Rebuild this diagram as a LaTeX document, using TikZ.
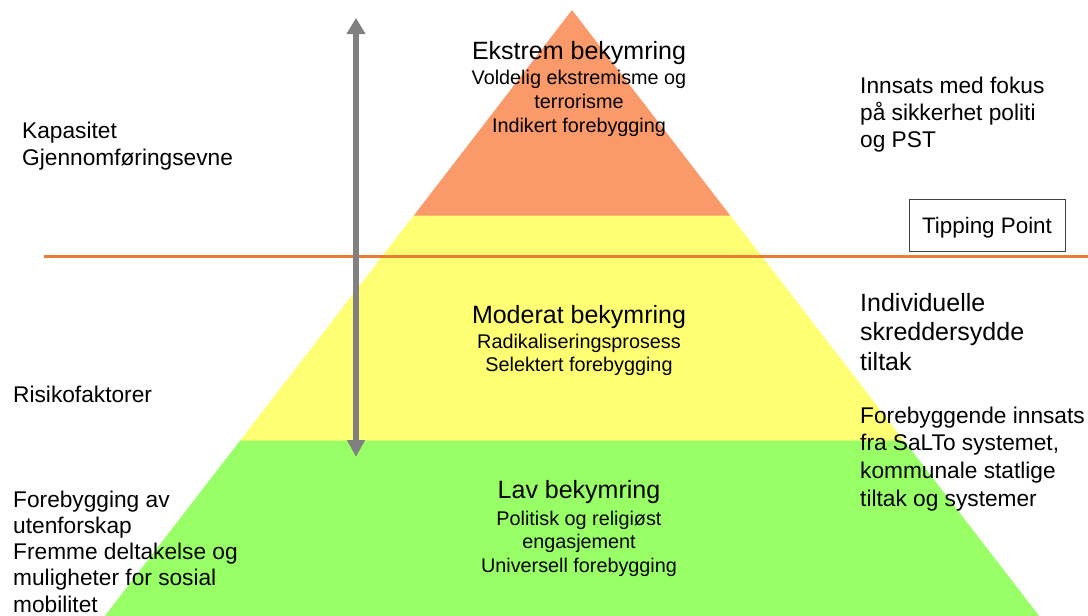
\documentclass[tikz,border=0pt]{standalone}
\usepackage{fontspec}
\setmainfont{Liberation Sans}
\usetikzlibrary{arrows.meta}
\definecolor{pyrorange}{RGB}{250,154,106}
\definecolor{pyryellow}{RGB}{255,255,115}
\definecolor{pyrgreen}{RGB}{153,255,102}
\definecolor{tipline}{RGB}{234,125,52}
\definecolor{arrowgray}{RGB}{128,128,128}
\begin{document}
\begin{tikzpicture}[x=1pt,y=-1pt,
  head/.style={font=\fontsize{25}{30}\selectfont, anchor=base, inner sep=0},
  sub/.style={font=\fontsize{19.8}{24}\selectfont, anchor=base, inner sep=0},
  side/.style={font=\fontsize{22.7}{27}\selectfont, anchor=base west, inner sep=0},
  sidebig/.style={font=\fontsize{25}{30}\selectfont, anchor=base west, inner sep=0}]
\useasboundingbox (0,0) rectangle (1088,616);
% pyramid
\fill[pyrgreen] (240.5,440) -- (903.5,440) -- (1039.2,616) -- (104.8,616) -- cycle;
\fill[pyryellow] (414,215) -- (730,215) -- (903.8,440.5) -- (240.2,440.5) -- cycle;
\fill[pyrorange] (572,10) -- (730.2,215.5) -- (413.8,215.5) -- cycle;
% tipping line
\coordinate (lineL) at (44,256);
\coordinate (lineR) at (1088,256);
\draw[tipline, line width=3] (lineL) -- (lineR);
% double arrow
\coordinate (arrTop) at (356,18);
\coordinate (arrBot) at (356,457);
\draw[arrowgray, line width=6, {Triangle[length=16,width=18]}-{Triangle[length=17,width=17]}] (arrTop) -- (arrBot);
% tipping point box
\node[draw=black!75, line width=0.8, minimum width=156, minimum height=52, inner sep=0,
      font=\fontsize{22.4}{27}\selectfont, text height=20, text depth=4] (tp) at (987,225) {Tipping Point};
% pyramid texts
\node[head] (ek) at (579,59) {Ekstrem bekymring};
\foreach \t [count=\i] in {Voldelig ekstremisme og, terrorisme, Indikert forebygging}
  \node[sub] (eksub\i) at (579,{84+24*(\i-1)}) {\t};
\node[head] (mo) at (579,323) {Moderat bekymring};
\foreach \t [count=\i] in {Radikaliseringsprosess, Selektert forebygging}
  \node[sub] (mosub\i) at (579,{348+23.5*(\i-1)}) {\t};
\node[head] (la) at (579,498) {Lav bekymring};
\foreach \t [count=\i] in {Politisk og religiøst, engasjement, Universell forebygging}
  \node[sub] (lasub\i) at (579,{525+23.5*(\i-1)}) {\t};
% left texts
\foreach \t [count=\i] in {Kapasitet, Gjennomføringsevne}
  \node[side] (kap\i) at (22,{138+27*(\i-1)}) {\t};
\node[side] (risk) at (13,402) {Risikofaktorer};
\foreach \t [count=\i] in {Forebygging av, utenforskap, Fremme deltakelse og, muligheter for sosial, mobilitet}
  \node[side] (fore\i) at (13,{507+26.3*(\i-1)}) {\t};
% right texts
\foreach \t [count=\i] in {Innsats med fokus, på sikkerhet politi, og PST}
  \node[side] (inn\i) at (860,{93+27*(\i-1)}) {\t};
\foreach \t [count=\i] in {Individuelle, skreddersydde, tiltak}
  \node[sidebig] (ind\i) at (860,{311+29.5*(\i-1)}) {\t};
\foreach \t [count=\i] in {Forebyggende innsats, {fra SaLTo systemet,}, kommunale statlige, tiltak og systemer}
  \node[side] (fi\i) at (860,{423+27.7*(\i-1)}) {\t};
\end{tikzpicture}
\end{document}
